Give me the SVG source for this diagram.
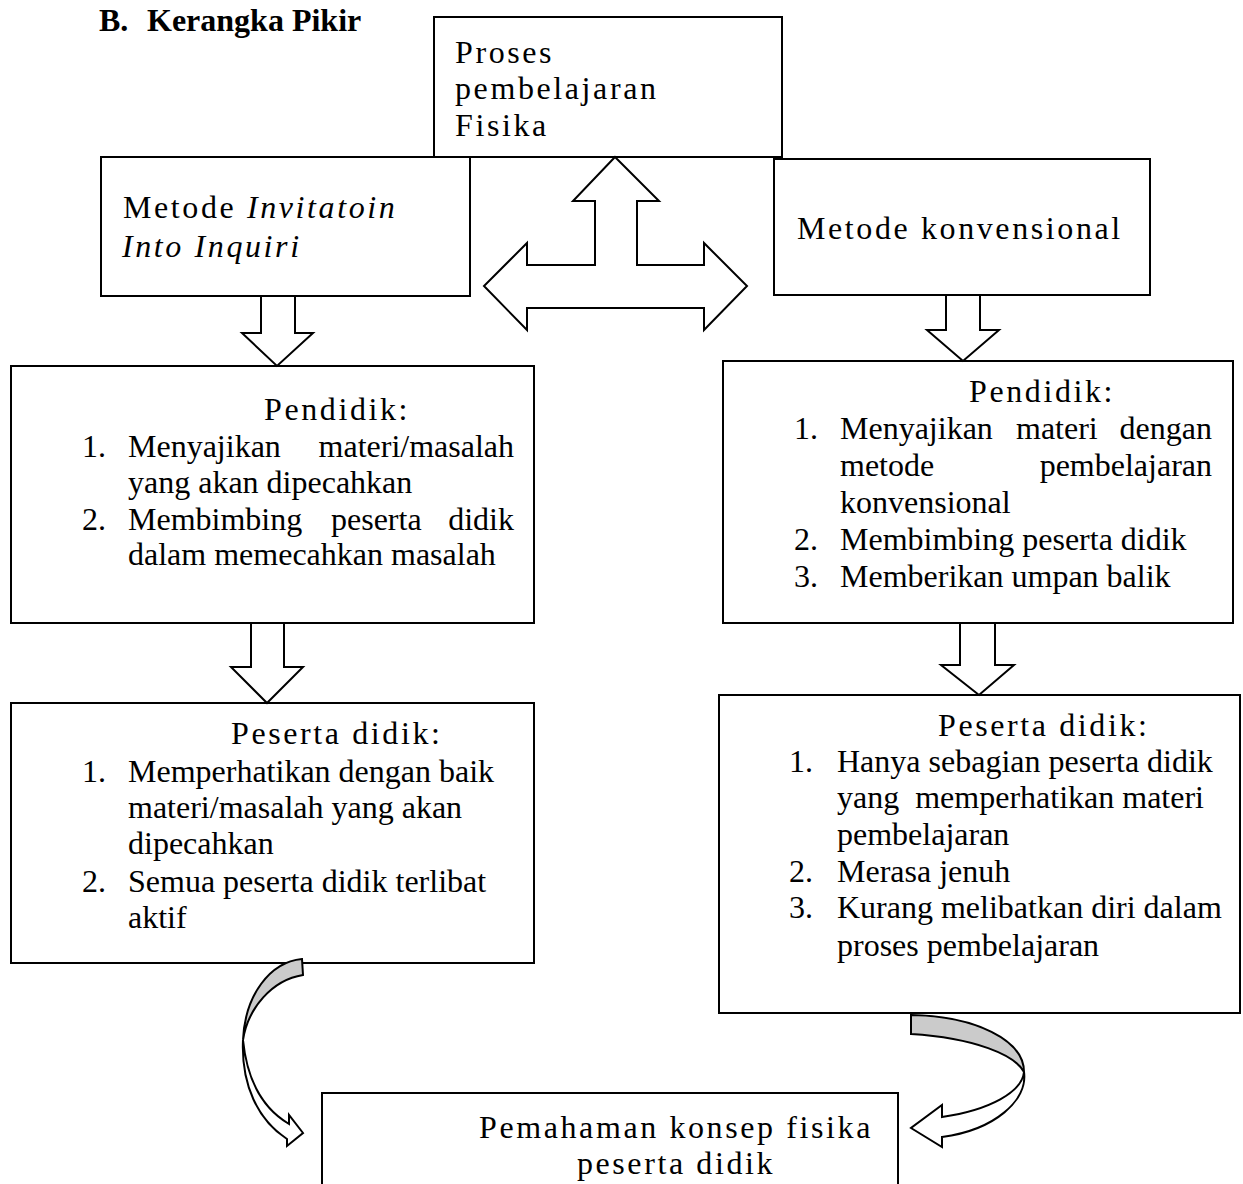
<svg xmlns="http://www.w3.org/2000/svg" width="1243" height="1184" viewBox="0 0 1243 1184">
<style>
.box{fill:#fff;stroke:#000;stroke-width:2}
.arr{fill:#fff;stroke:#000;stroke-width:2;stroke-linejoin:miter}
.gray{fill:#cbcbcb;stroke:#000;stroke-width:2;stroke-linejoin:miter}
text{font-family:"Liberation Serif","Times New Roman",serif;font-size:32px;fill:#000}
.sp{letter-spacing:2.6px}
.it{font-style:italic}
.b{font-weight:bold}
</style>
<rect width="1243" height="1184" fill="#fff"/>
<g id="title"><text class="b" x="99" y="31">B.</text><text class="b" x="147" y="31">Kerangka Pikir</text></g>

<g id="proses">
<rect class="box" x="434" y="17" width="348" height="140"/>
<text class="sp" x="455" y="63">Proses</text>
<text class="sp" x="455" y="99">pembelajaran</text>
<text class="sp" x="455" y="136">Fisika</text>
</g>

<g id="metode-inquiry">
<rect class="box" x="101" y="157" width="369" height="139"/>
<text class="sp" x="123" y="218">Metode <tspan class="it">Invitatoin</tspan></text>
<text class="sp it" x="122" y="257">Into Inquiri</text>
</g>

<g id="metode-konvensional">
<rect class="box" x="774" y="159" width="376" height="136"/>
<text class="sp" x="797" y="239">Metode konvensional</text>
</g>

<g id="pendidik-kiri">
<rect class="box" x="11" y="366" width="523" height="257"/>
<text class="sp" x="264" y="420">Pendidik:</text>
<text x="82" y="457">1.</text><text x="128" y="457">Menyajikan</text><text x="514" y="457" text-anchor="end">materi/masalah</text>
<text x="128" y="493">yang akan dipecahkan</text>
<text x="82" y="530">2.</text><text x="128" y="530">Membimbing</text><text x="331" y="530">peserta</text><text x="514" y="530" text-anchor="end">didik</text>
<text x="128" y="565">dalam memecahkan masalah</text>
</g>

<g id="peserta-kiri">
<rect class="box" x="11" y="703" width="523" height="260"/>
<text class="sp" x="231" y="744">Peserta didik:</text>
<text x="82" y="782">1.</text><text x="128" y="782">Memperhatikan dengan baik</text>
<text x="128" y="818">materi/masalah yang akan</text>
<text x="128" y="854">dipecahkan</text>
<text x="82" y="892">2.</text><text x="128" y="892">Semua peserta didik terlibat</text>
<text x="128" y="928">aktif</text>
</g>

<g id="pendidik-kanan">
<rect class="box" x="723" y="361" width="510" height="262"/>
<text class="sp" x="969" y="402">Pendidik:</text>
<text x="794" y="439">1.</text><text x="840" y="439">Menyajikan</text><text x="1016" y="439">materi</text><text x="1212" y="439" text-anchor="end">dengan</text>
<text x="840" y="476">metode</text><text x="1212" y="476" text-anchor="end">pembelajaran</text>
<text x="840" y="513">konvensional</text>
<text x="794" y="550">2.</text><text x="840" y="550">Membimbing peserta didik</text>
<text x="794" y="587">3.</text><text x="840" y="587">Memberikan umpan balik</text>
</g>

<g id="peserta-kanan">
<rect class="box" x="719" y="695" width="521" height="318"/>
<text class="sp" x="938" y="736">Peserta didik:</text>
<text x="789" y="772">1.</text><text x="837" y="772">Hanya sebagian peserta didik</text>
<text x="837" y="808" xml:space="preserve">yang  memperhatikan materi</text>
<text x="837" y="845">pembelajaran</text>
<text x="789" y="882">2.</text><text x="837" y="882">Merasa jenuh</text>
<text x="789" y="918">3.</text><text x="837" y="918">Kurang melibatkan diri dalam</text>
<text x="837" y="956">proses pembelajaran</text>
</g>

<g id="pemahaman">
<rect class="box" x="322" y="1093" width="576" height="110"/>
<text class="sp" x="676" y="1138" text-anchor="middle">Pemahaman konsep fisika</text>
<text class="sp" x="676" y="1174" text-anchor="middle">peserta didik</text>
</g>

<g id="connectors">
<polygon class="arr" points="615,157 659,201 637,201 637,265 704,265 704,243 747,286 704,330 704,308 527,308 527,330 484,286 527,243 527,265 595,265 595,201 573,201"/>
<polygon class="arr" points="261,296 295,296 295,333 313,333 277,366 242,333 261,333"/>
<polygon class="arr" points="251,623 284,623 284,667 303,667 267,703 231,667 251,667"/>
<polygon class="arr" points="946,295 980,295 980,330 999,330 963,361 927,330 946,330"/>
<polygon class="arr" points="960,623 995,623 995,665 1014,665 979,695 941,665 960,665"/>
<path class="gray" d="M302,959 C270,962 245,995 243,1040 C248,1008 272,980 303,975 Z"/>
<path class="arr" d="M243,1040 C241,1085 258,1120 287,1139 L287,1146 L303,1133 L289,1115 L289,1124 C262,1108 247,1080 243,1040 Z"/>
<path class="gray" d="M911,1015 C975,1016 1024,1040 1024,1072 C1015,1055 975,1038 911,1034 Z"/>
<path class="arr" d="M1024,1072 C1022,1092 990,1110 942,1117 L942,1105 L911,1128 L942,1147 L942,1137 C995,1130 1028,1100 1024,1072 Z"/>
</g>
</svg>
